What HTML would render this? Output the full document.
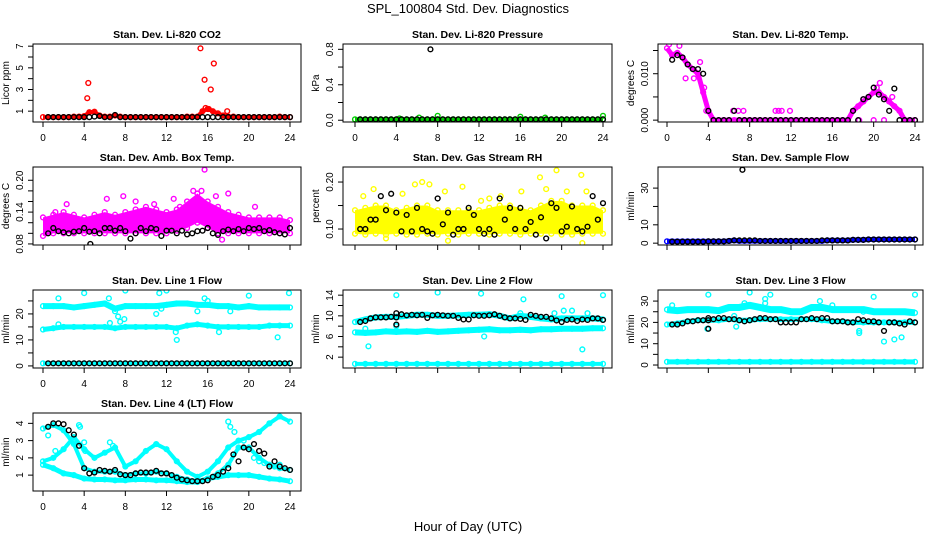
<!DOCTYPE html>
<html><head><meta charset="utf-8"><style>
body{margin:0;background:#fff}
svg{display:block;font-family:"Liberation Sans",sans-serif}
</style></head><body>
<svg id="c" width="936" height="540" viewBox="0 0 936 540">
<text x="468" y="13" text-anchor="middle" font-size="13">SPL_100804  Std. Dev. Diagnostics</text>
<text x="468" y="531" text-anchor="middle" font-size="13">Hour of Day (UTC)</text>
</svg>
<script>
// ---- data (hour-indexed: "H" arrays at 0,1..24 ; "S" arrays at 0,0.5..24 ; "B" arrays at 0.5,1..24) ----
const xTicks=[0,4,8,12,16,20,24];
// CO2
const co2Red=[0.45,0.45,0.45,0.45,0.45,0.45,0.5,0.5,0.55,0.9,0.95,0.6,0.5,0.5,0.6,0.5,0.45,0.45,0.45,0.45,0.45,0.45,0.45,0.45,0.45,0.45,0.45,0.45,0.5,0.5,0.5,1.0,1.2,1.0,0.8,0.6,0.5,0.5,0.45,0.45,0.45,0.45,0.45,0.45,0.45,0.45,0.5,0.45,0.45];
const co2RedOut=[[4.4,3.6],[4.3,2.2],[15.3,6.8],[15.7,3.9],[16.3,3.0],[16.6,5.4],[17.9,1.0],[15.8,1.3],[16.1,1.2]];
const co2Black=[0.45,0.45,0.45,0.45,0.45,0.45,0.45,0.45,0.45,0.5,0.55,0.45,0.45,0.65,0.45,0.45,0.45,0.45,0.45,0.45,0.45,0.45,0.45,0.45,0.45,0.45,0.45,0.45,0.45,0.45,0.45,0.45,0.45,0.45,0.45,0.45,0.45,0.45,0.45,0.45,0.45,0.45,0.45,0.45,0.45,0.45,0.45,0.45];
// Pressure
const presGreen=Array(49).fill(0.01);
const presGreenOut=[[8,0.05],[16,0.04],[18.4,0.03],[24,0.05],[6.2,0.03],[4.3,0.02]];
const presBlack=Array(48).fill(0.01);
const presBlackOut=[[7.3,0.8]];
// Li-820 temp
const ltMag=[0.0155,0.014,0.0145,0.0135,0.012,0.011,0.010,0.006,0.002,0,0,0,0,0,0,0,0,0,0,0,0,0,0,0,0,0,0,0,0,0,0,0,0,0,0,0,0.002,0.003,0.004,0.005,0.006,0.006,0.005,0.004,0.003,0.002,0,0,0];
const ltMagOut=[[6.4,.002],[6.9,.002],[7.4,.002],[10.5,.002],[10.8,.002],[11.1,.002],[11.9,.002],[0.2,.0163],[1.2,.016],[3.2,.0125],[2.6,.009],[1.8,.009],[20.6,.008],[21.8,.005],[22.5,.002],[19,.0045],[20.3,.007],[3.6,.007],[3.8,.002],[23,0],[21,0],[20,0],[18.6,0]];
const ltBlack=[0.013,0.014,0.0135,0.012,0.011,0.011,0.010,0.002,0,0,0,0,0.002,0,0,0,0,0,0,0,0,0,0,0,0,0,0,0,0,0,0,0,0,0,0,0.002,0,0.0045,0.005,0.007,0.0055,0.0045,0.002,0.0068,0,0,0,0];
// Amb box temp
const ambLow=[0.095,0.1,0.1,0.1,0.1,0.1,0.1,0.1,0.1,0.1,0.1,0.1,0.1,0.105,0.11,0.12,0.11,0.1,0.1,0.1,0.1,0.1,0.1,0.1,0.1];
const ambHigh=[0.13,0.135,0.14,0.135,0.13,0.135,0.14,0.135,0.14,0.145,0.15,0.145,0.14,0.145,0.16,0.175,0.16,0.15,0.14,0.135,0.13,0.13,0.13,0.13,0.125];
const ambOut=[[15.7,0.22],[14.6,0.18],[15.4,0.18],[16.8,0.17],[18,0.175],[6.2,0.165],[7.8,0.17],[2.3,0.155],[10.8,0.155],[12.7,0.165],[20.6,0.15],[9,0.16],[17.4,0.088],[1.2,0.14],[13.3,0.15],[0.3,0.1]];
const ambBlack=[0.10,0.11,0.104,0.102,0.10,0.103,0.104,0.11,0.103,0.104,0.10,0.11,0.11,0.105,0.11,0.104,0.09,0.10,0.11,0.104,0.11,0.108,0.095,0.105,0.105,0.10,0.105,0.098,0.10,0.104,0.105,0.11,0.10,0.097,0.104,0.107,0.104,0.108,0.104,0.11,0.108,0.11,0.104,0.106,0.102,0.10,0.098,0.11];
const ambBlackOut=[[4.6,0.08]];
// RH
const rhLow=[0.09,0.088,0.09,0.088,0.09,0.088,0.088,0.09,0.088,0.09,0.088,0.09,0.09,0.088,0.09,0.09,0.088,0.09,0.09,0.09,0.088,0.088,0.09,0.09,0.09];
const rhHigh=[0.14,0.145,0.15,0.15,0.14,0.145,0.15,0.15,0.14,0.14,0.14,0.14,0.14,0.145,0.15,0.15,0.145,0.14,0.15,0.16,0.16,0.15,0.15,0.15,0.14];
const rhOut=[[0.8,0.17],[1.8,0.185],[4.6,0.175],[5.8,0.195],[7.2,0.195],[8.7,0.18],[10.4,0.19],[12.2,0.16],[14.1,0.17],[16.1,0.18],[17.9,0.21],[18.5,0.185],[19.5,0.225],[21.9,0.215],[22.4,0.18],[6.5,0.2],[3.0,0.08],[22.0,0.07],[9.0,0.075],[13,0.165],[20.5,0.18]];
const rhBlack=[0.10,0.10,0.12,0.12,0.17,0.14,0.175,0.135,0.095,0.13,0.095,0.145,0.10,0.095,0.09,0.165,0.11,0.135,0.088,0.10,0.10,0.145,0.13,0.10,0.09,0.10,0.088,0.165,0.12,0.145,0.10,0.145,0.10,0.115,0.088,0.125,0.08,0.155,0.145,0.095,0.105,0.148,0.10,0.095,0.105,0.17,0.12,0.155];
// Sample flow
const sfBlue=[1,1,1,1,1,1,1,1,1,1,1,1,1.2,1.5,1.2,1.2,1.2,1.2,1.2,1.2,1.2,1.2,1.2,1.2,1.2,1.2,1.2,1.2,1.2,1.2,1.2,1.5,1.5,1.5,1.5,1.5,1.8,1.8,1.8,2,2,2,2,2,2,2,2,2,2];
const sfBlack=[0.8,0.8,0.8,0.8,0.8,0.8,0.8,1,1,1,1,1.2,1.5,1.5,1.5,1.5,1.5,1.2,1.2,1.2,1.2,1.2,1.2,1.2,1.2,1.2,1.2,1.2,1.2,1.5,1.5,1.5,1.5,1.5,1.5,1.8,1.8,1.8,2,2,2,2,2,2,2,2,2,2];
const sfBlackOut=[[7.3,40]];
// Line 1 flow
const l1Up=[23,23,23,22.5,23,23.5,24,22,23,23,23,23,23.5,24,24,23.5,23.5,23,23,22.5,23,22.5,22.5,22.5,22.5];
const l1Mid=[14,14.5,15,15,15,15,15,14.5,15,15,15,15,15,14.5,15.5,16,15.5,15,15,15,15,15,15.5,15.5,15.5];
const l1Low=Array(25).fill(1);
const l1Out=[[1.5,26],[4,28],[6.4,26],[7,21],[7.3,19],[7.5,17],[7.9,18],[8,29],[11,20],[11.3,28],[12,29],[13,10],[12.9,13],[15,21],[16,25],[17.1,13],[18.2,21],[20,27],[22.8,11],[23.9,28],[1.5,16],[6.5,16.5],[15.7,26],[11.5,22]];
const l1Black=Array(48).fill(1);
// Line 2 flow
const l2Up=[8.8,9.3,9.7,9.8,9.8,10,10.2,10.2,10,10,10.1,10.2,10.2,10.3,10,9.5,10,9.8,9.5,9.3,9.5,9.5,9.5,9.5,9.3];
const l2Mid=[6.8,6.7,6.8,7,6.9,7,6.9,7.1,6.9,7,7.1,7.2,7.3,7.4,7.2,7.2,7.3,7.2,7.4,7.4,7.5,7.5,7.5,7.6,7.6];
const l2Low=Array(25).fill(0.7);
const l2Out=[[1.3,4.1],[4,14],[8,14.5],[12.2,14.3],[16.3,13.2],[20,13.8],[24,14],[22,3.5],[1,7.5],[12.5,6],[20.2,11],[21,11],[22.5,10.5],[19.3,10.5],[4,8],[16,10.5]];
const l2Black=[8.8,9.0,9.5,9.7,9.7,9.7,9.8,9.7,10.3,10.1,10.2,10.1,10.2,9.6,10.1,10.2,10.1,10.0,10.0,9.6,9.3,9.3,10.1,10.0,10.0,10.1,10.3,10.0,9.7,9.5,9.5,9.4,9.2,10.2,10.0,9.8,9.8,9.5,9.1,8.8,9.2,9.3,9.0,9.3,9.2,9.5,9.5,9.2];
const l2BlackOut=[[4,8.3],[4,10.5]];
// Line 3 flow
const l3Up=[26,25.5,26,26,26,25.5,27,27,28,27,26,26,25,25,27,27,26,26,26,26,25,25,25,25,24.5];
const l3Mid=[19,19.5,20.5,21,21,21,21.5,21,21,21.5,21.5,21.5,21.5,21.5,21.5,21,20.5,20.5,20,20,20,20,20,20,20];
const l3Low=Array(25).fill(1.5);
const l3Out=[[0.5,28],[4,33],[8,34],[10,33],[9.5,31],[9.5,29],[7.5,29],[14.8,30],[16,28],[20,32],[22,12],[22.7,13],[21,11],[18.6,16],[18.6,15],[3.9,17],[19,25],[6.5,23],[6.7,18],[24,33]];
const l3Black=[19,19,19.5,20.5,20.5,21,21,21,21.5,22,22,21.5,21.5,21,20.5,21,21.5,22,22,21.5,21.5,20,20,20,20,21.5,21.5,22,21.5,22,22,20.5,20.5,20.5,20,20,21.5,21,20.5,20.5,20,16,20,20,19.5,19,20.5,20];
const l3BlackOut=[[4,17],[4,22]];
// Line 4 flow
const l4C1=[1.6,1.4,1.1,1.0,0.8,0.75,0.75,0.7,0.7,0.75,0.75,0.7,0.7,0.65,0.6,0.6,0.8,0.9,1.0,1.0,1.0,0.9,0.8,0.75,0.65];
const l4C2=[1.8,2.0,2.5,3.2,2.5,2.0,2.3,2.6,1.5,1.8,2.4,2.8,2.5,1.8,1.2,0.9,1.2,1.8,2.6,3.0,3.2,3.5,4.0,4.4,4.1];
const l4C3=[3.7,3.9,3.6,2.8,1.4,1.2,1.2,1.2,1.0,1.1,1.1,1.2,1.1,0.9,0.75,0.65,0.8,1.1,1.6,2.6,2.6,2.0,1.6,1.4,1.3];
const l4Out=[[3.5,3.9],[3.6,3.8],[4,2.9],[4.1,2.4],[6.5,2.9],[6.8,2.7],[18,4.1],[18.2,3.8],[18.6,3.5],[19.5,3.0],[20.5,2.0],[21,1.8],[21.5,1.7],[22.5,1.5],[23,1.6],[1.2,2.4],[0.5,3.3]];
const l4Black=[3.8,4.0,4.0,3.95,3.6,3.35,2.7,1.4,1.1,1.15,1.3,1.25,1.2,1.3,1.05,1.0,1.0,1.1,1.15,1.15,1.15,1.25,1.1,1.1,1.0,0.85,0.75,0.7,0.65,0.65,0.65,0.7,0.9,1.0,1.2,1.4,2.2,1.8,2.6,2.5,2.8,2.4,2.25,1.5,1.8,1.5,1.4,1.3];

const NS='http://www.w3.org/2000/svg';
const svg=document.getElementById('c');
function mk(tag,attrs,parent){const e=document.createElementNS(NS,tag);for(const k in attrs)e.setAttribute(k,attrs[k]);(parent||svg).appendChild(e);return e;}
const cols=[{l:33,r:301,x0:43,x1:290},{l:343,r:612,x0:355,x1:603},{l:658,r:923,x0:667,x1:915}];
const rows=[{t:44,b:122},{t:167,b:245},{t:290,b:368},{t:413,b:491}];

function panel(o){
  const c=cols[o.col],r=rows[o.row];
  const g=mk('g',{});
  
  
  const xs=h=>c.x0+(c.x1-c.x0)*h/24;
  const ys=v=>r.b-(r.b-r.t)*(v-o.ymin)/(o.ymax-o.ymin);
  const t=mk('text',{x:(c.l+c.r)/2,y:r.t-6,'text-anchor':'middle','font-size':10.5,'font-weight':'bold'},g);
  t.textContent=o.title;
  
  
  const clip='clip'+o.row+o.col;
  const cp=mk('clipPath',{id:clip},g);mk('rect',{x:c.l,y:r.t,width:c.r-c.l,height:r.b-r.t},cp);
  const pg=mk('g',{'clip-path':'url(#'+clip+')'},g);
  // envelope clouds
  (o.env||[]).forEach(e=>{
    let pts=e.low.map((v,i)=>xs(i)+','+ys(v));
    pts=pts.concat(e.high.map((v,i)=>xs(i)+','+ys(v)).reverse());
    const p=mk('polygon',{points:pts.join(' '),fill:e.color},pg);
    
    
    e.low.forEach((v,i)=>{dot(pg,xs(i),ys(v),e.color);dot(pg,xs(i),ys(e.high[i]),e.color);});
  });
  // bands: lines through values
  (o.bands||[]).forEach(b=>{
    const step=24/(b.vals.length-1);
    const pl=mk('polyline',{points:b.vals.map((v,i)=>xs(i*step)+','+ys(v)).join(' '),fill:'none',stroke:b.color,'stroke-width':b.w||5,'stroke-linejoin':'round'},pg);
    
    
    b.vals.forEach((v,i)=>dot(pg,xs(i*step),ys(v),b.color));
  });
  (o.pts||[]).forEach(s=>s.pts.forEach(p=>dot(pg,xs(p[0]),ys(p[1]),s.color)));
  (o.black||[]).forEach(s=>s.forEach((v,i)=>dot(pg,xs((i+1)*0.5),ys(v),'#000')));
  (o.blackOut||[]).forEach(p=>dot(pg,xs(p[0]),ys(p[1]),'#000'));
  // box
  const bx=mk('rect',{x:c.l,y:r.t,width:c.r-c.l,height:r.b-r.t,fill:'none',stroke:'#000','stroke-width':1},g);
  
  
  // x axis
  xTicks.forEach(h=>{
    mk('line',{x1:xs(h),x2:xs(h),y1:r.b,y2:r.b+5,stroke:'#000'},g);
    if(o.xlab){const tl=mk('text',{x:xs(h),y:r.b+19,'text-anchor':'middle','font-size':10},g);tl.textContent=h;
      
      }
  });
  // y axis
  o.yt.forEach(v=>{
    mk('line',{x1:c.l,x2:c.l-5,y1:ys(v),y2:ys(v),stroke:'#000'},g);
    if(o.yl.includes(v)){const s=o.fmt?o.fmt(v):String(v);
      const tl=mk('text',{x:c.l-10,y:ys(v),'text-anchor':'middle','font-size':10,transform:'rotate(-90 '+(c.l-10)+' '+ys(v)+')'},g);tl.textContent=s;
      
      }
  });
  const yx=c.l-24,yy=(r.t+r.b)/2;
  const yt=mk('text',{x:yx,y:yy,'text-anchor':'middle','font-size':10,transform:'rotate(-90 '+yx+' '+yy+')'},g);
  yt.textContent=o.ylab;
  
  
}
function dot(p,x,y,col){
  const d=mk('circle',{cx:x,cy:y,r:2.4,fill:'none',stroke:col,'stroke-width':1.4},p);
  
  
}
const f1=v=>v.toFixed(1),f2=v=>v.toFixed(2),f3=v=>v.toFixed(3);
panel({name:'co2-panel',row:0,col:0,title:'Stan. Dev. Li-820 CO2',ylab:'Licor ppm',ymin:0,ymax:7.2,yt:[1,2,3,4,5,6,7],yl:[1,3,5,7],xlab:true,
  bands:[{vals:co2Red,color:'#f00',w:4}],pts:[{pts:co2RedOut,color:'#f00'}],black:[co2Black]});
panel({name:'pressure-panel',row:0,col:1,title:'Stan. Dev. Li-820 Pressure',ylab:'kPa',ymin:-0.02,ymax:0.86,yt:[0,0.2,0.4,0.6,0.8],yl:[0,0.4,0.8],fmt:f1,xlab:true,
  bands:[{vals:presGreen,color:'#0c0',w:4}],pts:[{pts:presGreenOut,color:'#0c0'}],black:[presBlack],blackOut:presBlackOut});
panel({name:'li820-temp-panel',row:0,col:2,title:'Stan. Dev. Li-820 Temp.',ylab:'degrees C',ymin:-0.0004,ymax:0.0164,yt:[0,0.005,0.010,0.015],yl:[0,0.010],fmt:f3,xlab:true,
  bands:[{vals:ltMag,color:'#f0f',w:5}],pts:[{pts:ltMagOut,color:'#f0f'}],black:[ltBlack]});
panel({name:'amb-box-temp-panel',row:1,col:0,title:'Stan. Dev. Amb. Box Temp.',ylab:'degrees C',ymin:0.078,ymax:0.225,yt:[0.08,0.10,0.12,0.14,0.16,0.18,0.20],yl:[0.08,0.14,0.20],fmt:f2,
  env:[{low:ambLow,high:ambHigh,color:'#f0f'}],pts:[{pts:ambOut,color:'#f0f'}],black:[ambBlack],blackOut:ambBlackOut});
panel({name:'gas-stream-rh-panel',row:1,col:1,title:'Stan. Dev. Gas Stream RH',ylab:'percent',ymin:0.066,ymax:0.232,yt:[0.10,0.15,0.20],yl:[0.10,0.20],fmt:f2,
  env:[{low:rhLow,high:rhHigh,color:'#ff0'}],pts:[{pts:rhOut,color:'#ff0'}],black:[rhBlack]});
panel({name:'sample-flow-panel',row:1,col:2,title:'Stan. Dev. Sample Flow',ylab:'ml/min',ymin:-1,ymax:41.5,yt:[0,10,20,30],yl:[0,10,30],
  bands:[{vals:sfBlue,color:'#00f',w:5}],black:[sfBlack],blackOut:sfBlackOut});
panel({name:'line1-flow-panel',row:2,col:0,title:'Stan. Dev. Line 1 Flow',ylab:'ml/min',ymin:-0.8,ymax:29.2,yt:[0,5,10,15,20,25],yl:[0,10,20],xlab:true,
  bands:[{vals:l1Up,color:'#0ff',w:6},{vals:l1Mid,color:'#0ff',w:5},{vals:l1Low,color:'#0ff',w:4}],pts:[{pts:l1Out,color:'#0ff'}],black:[l1Black]});
panel({name:'line2-flow-panel',row:2,col:1,title:'Stan. Dev. Line 2 Flow',ylab:'ml/min',ymin:-0.1,ymax:15,yt:[2,4,6,8,10,12,14],yl:[2,6,10,14],
  bands:[{vals:l2Up,color:'#0ff',w:6},{vals:l2Mid,color:'#0ff',w:6},{vals:l2Low,color:'#0ff',w:4}],pts:[{pts:l2Out,color:'#0ff'}],black:[l2Black],blackOut:l2BlackOut});
panel({name:'line3-flow-panel',row:2,col:2,title:'Stan. Dev. Line 3 Flow',ylab:'ml/min',ymin:-1.4,ymax:35.2,yt:[0,5,10,15,20,25,30],yl:[0,10,20,30],
  bands:[{vals:l3Up,color:'#0ff',w:7},{vals:l3Mid,color:'#0ff',w:5},{vals:l3Low,color:'#0ff',w:5}],pts:[{pts:l3Out,color:'#0ff'}],black:[l3Black],blackOut:l3BlackOut});
panel({name:'line4-flow-panel',row:3,col:0,title:'Stan. Dev. Line 4 (LT) Flow',ylab:'ml/min',ymin:0.08,ymax:4.6,yt:[1,2,3,4],yl:[1,2,3,4],xlab:true,
  bands:[{vals:l4C1,color:'#0ff',w:5},{vals:l4C2,color:'#0ff',w:4},{vals:l4C3,color:'#0ff',w:4}],pts:[{pts:l4Out,color:'#0ff'}],black:[l4Black]});
</script>
</body></html>
